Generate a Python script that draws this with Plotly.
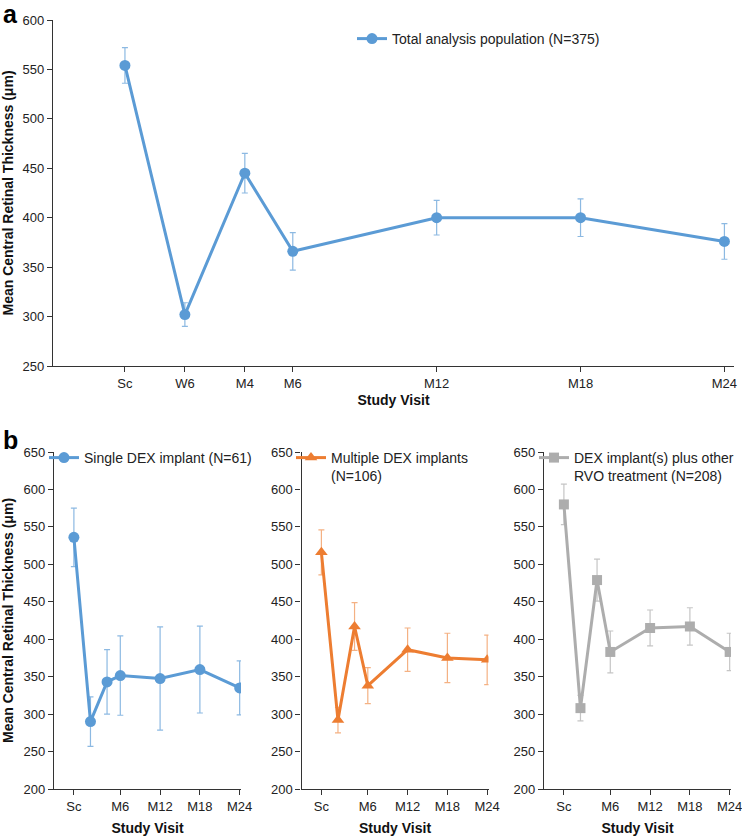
import plotly.graph_objects as go

# ---- data ----
top_visits = ["Sc", "W6", "M4", "M6", "M12", "M18", "M24"]
visit_months = [-1, 1.5, 4, 6, 12, 18, 24]

total_mean = [554, 302, 445, 366, 400, 400, 376]
total_err = [18, 12, 20, 19, 17.5, 19, 18]

single_mean = [536, 290, 343, 351.5, 347.5, 359.5, 335]
single_err = [39, 33, 43, 53, 69, 58, 36]

multi_mean = [516, 292, 417, 338, 386, 375, 372.5]
multi_err = [30, 17, 32, 24, 29, 33, 33]

plus_mean = [580, 308, 479, 383, 415, 417, 383]
plus_err = [27, 17, 28, 28, 24, 25, 25]

bottom_tickvals = [-1, 6, 12, 18, 24]
bottom_ticktext = ["Sc", "M6", "M12", "M18", "M24"]

BLUE = "#5B9BD5"
ORANGE = "#ED7D31"
GRAY = "#ADADAD"
FONT = "Liberation Sans, Arial, sans-serif"
W, H = 742, 836


def px(x):
    return x / W


def py(y):
    return 1 - y / H


fig = go.Figure()


def add_series(x, y, err, name, color, err_color, symbol, size, xa, ya, legend):
    fig.add_trace(go.Scatter(
        x=x, y=y, name=name, mode="lines+markers",
        line=dict(color=color, width=3),
        marker=dict(color=color, symbol=symbol, size=size),
        error_y=dict(type="data", array=err, color=err_color, thickness=1.2, width=3),
        xaxis=xa, yaxis=ya, legend=legend, showlegend=True,
    ))


add_series(visit_months, total_mean, total_err, "Total analysis population (N=375)",
           BLUE, "rgba(91,155,213,0.7)", "circle", 11, "x", "y", "legend")
add_series(visit_months, single_mean, single_err, "Single DEX implant (N=61)",
           BLUE, "rgba(91,155,213,0.7)", "circle", 11, "x2", "y2", "legend2")
add_series(visit_months, multi_mean, multi_err, "Multiple DEX implants<br>(N=106)",
           ORANGE, "rgba(237,125,49,0.6)", "triangle-up", 11, "x3", "y3", "legend3")
add_series(visit_months, plus_mean, plus_err, "DEX implant(s) plus other<br>RVO treatment (N=208)",
           GRAY, "rgba(173,173,173,0.7)", "square", 10, "x4", "y4", "legend4")

axis_common = dict(
    showline=True, linecolor="#333333", linewidth=1.2,
    ticks="outside", ticklen=5, tickcolor="#333333", tickwidth=1,
    showgrid=False, zeroline=False, automargin=False,
    ticklabeloverflow="allow",
    tickfont=dict(family=FONT, size=13, color="#222222"),
)
title_font = dict(family=FONT, size=14, color="#111111")

layout = dict(
    template="none",
    width=W, height=H,
    margin=dict(l=0, r=0, t=0, b=0, pad=0),
    paper_bgcolor="white", plot_bgcolor="white",
    font=dict(family=FONT, size=13, color="#222222"),
    xaxis=dict(domain=[px(53), px(734)], range=[-4, 24.4],
               tickvals=visit_months, ticktext=top_visits,
               title=dict(text="<b>Study Visit</b>", font=title_font, standoff=5),
               anchor="y", **axis_common),
    yaxis=dict(domain=[py(366), py(20)], range=[250, 600], dtick=50,
               title=dict(text="<b>Mean Central Retinal Thickness (μm)</b>", font=title_font, standoff=7),
               anchor="x", **axis_common),
)

bottom_domains = [(54, 241), (301.5, 488.5), (544, 731)]
for i, (a, b) in enumerate(bottom_domains):
    k = i + 2
    layout[f"xaxis{k}"] = dict(domain=[px(a), px(b)], range=[-4, 24.2],
                               tickvals=bottom_tickvals, ticktext=bottom_ticktext,
                               title=dict(text="<b>Study Visit</b>", font=title_font, standoff=10),
                               anchor=f"y{k}", **axis_common)
    ydict = dict(domain=[py(789), py(452)], range=[200, 650], dtick=50,
                 anchor=f"x{k}", **axis_common)
    if k == 2:
        ydict["title"] = dict(text="<b>Mean Central Retinal Thickness (μm)</b>", font=title_font, standoff=7)
    layout[f"yaxis{k}"] = ydict

leg_common = dict(bgcolor="rgba(0,0,0,0)", borderwidth=0, xanchor="left", yanchor="top",
                  font=dict(family=FONT, size=14, color="#222222"), valign="top",
                  itemwidth=30)
layout["legend"] = dict(x=px(394 - 42), y=py(23), **leg_common)
layout["legend2"] = dict(x=px(86 - 42), y=py(442), **leg_common)
layout["legend3"] = dict(x=px(333 - 42), y=py(442), **leg_common)
layout["legend4"] = dict(x=px(576 - 42), y=py(442), **leg_common)

layout["annotations"] = [
    dict(text="<b>a</b>", x=px(1), y=py(-2), xref="paper", yref="paper", xanchor="left", yanchor="top",
         showarrow=False, font=dict(family=FONT, size=25, color="#000000")),
    dict(text="<b>b</b>", x=px(1), y=py(424), xref="paper", yref="paper", xanchor="left", yanchor="top",
         showarrow=False, font=dict(family=FONT, size=25, color="#000000")),
]

fig.update_layout(**layout)
fig.write_html(
    "out.html",
    config={"displayModeBar": False},
    post_script="document.body.style.margin='0';document.body.style.overflow='hidden';",
)
